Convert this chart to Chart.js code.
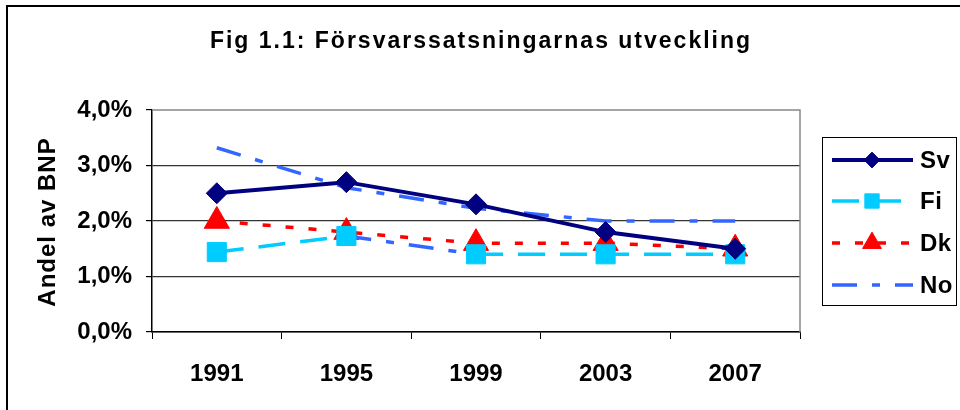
<!DOCTYPE html>
<html>
<head>
<meta charset="utf-8">
<script src="https://cdn.jsdelivr.net/npm/chart.js@4/dist/chart.umd.min.js"></script>
<style>
html,body{margin:0;padding:0;background:#fff;}
#wrap{position:relative;width:960px;height:410px;}
canvas{display:block;}
</style>
</head>
<body>
<div id="wrap"><canvas id="c" width="960" height="410"></canvas></div>
<script>
const titleText = 'Fig 1.1: Försvarssatsningarnas utveckling';
const yTitle = 'Andel av BNP';
const years = ['1991', '1995', '1999', '2003', '2007'];
const seriesNames = ['Sv', 'Fi', 'Dk', 'No'];
const sv = [2.5, 2.7, 2.3, 1.8, 1.5];
const fi = [1.44, 1.73, 1.4, 1.4, 1.4];
const dk = [2.0, 1.8, 1.6, 1.6, 1.5];
const no = [3.32, 2.6, 2.23, 2.0, 2.0];

const FONT = '"Liberation Sans", Arial, sans-serif';
const noDash = [25, 15, 8, 15];

const datasets = [
  {label: seriesNames[0], data: sv, borderColor: '#000080', backgroundColor: '#000080',
   borderWidth: 4, pointStyle: 'rectRot', pointRadius: 10.5, pointBorderWidth: 1,
   pointBackgroundColor: '#000080', pointBorderColor: '#000080', borderDash: []},
  {label: seriesNames[1], data: fi, borderColor: '#00CCFF', backgroundColor: '#00CCFF',
   borderWidth: 3.5, pointStyle: 'rect', pointRadius: 13.5, pointBorderWidth: 1,
   pointBackgroundColor: '#00CCFF', pointBorderColor: '#00CCFF', borderDash: [27, 15],
   segment: {
     borderColor: c => c.p0DataIndex === 1 ? '#3366FF' : undefined,
     borderDash: c => c.p0DataIndex === 1 ? noDash : undefined
   }},
  {label: seriesNames[2], data: dk, borderColor: '#FF0000', backgroundColor: '#FF0000',
   borderWidth: 3.5, pointStyle: 'triangle', pointRadius: 14.5, pointBorderWidth: 1,
   pointBackgroundColor: '#FF0000', pointBorderColor: '#FF0000', borderDash: [8, 15]},
  {label: seriesNames[3], data: no, borderColor: '#3366FF', backgroundColor: '#3366FF',
   borderWidth: 3.5, pointRadius: 0, pointStyle: false, borderDash: noDash}
];
datasets.forEach(d => { d.tension = 0; d.fill = false; d.pointHoverRadius = d.pointRadius; });

const deco = {
  id: 'deco',
  beforeDraw(chart) {
    const ctx = chart.ctx;
    ctx.save();
    ctx.fillStyle = '#fff';
    ctx.fillRect(0, 0, chart.width, chart.height);
    ctx.strokeStyle = '#000';
    ctx.lineWidth = 2;
    ctx.beginPath();
    ctx.moveTo(7, 410); ctx.lineTo(7, 6); ctx.lineTo(960, 6);
    ctx.stroke();
    ctx.restore();
  },
  beforeDatasetsDraw(chart) {
    const ctx = chart.ctx;
    const a = chart.chartArea;
    ctx.save();
    ctx.strokeStyle = '#888';
    ctx.lineWidth = 1.5;
    ctx.beginPath();
    ctx.moveTo(a.left, a.top); ctx.lineTo(a.right, a.top); ctx.lineTo(a.right, a.bottom);
    ctx.stroke();
    ctx.restore();
  },
  afterDatasetsDraw(chart) {
    const ctx = chart.ctx;
    const a = chart.chartArea;
    ctx.save();
    ctx.fillStyle = '#000';
    ctx.textBaseline = 'middle';
    // title
    ctx.font = 'bold 23px ' + FONT;
    ctx.textAlign = 'center';
    if ('letterSpacing' in ctx) ctx.letterSpacing = '2px';
    ctx.fillText(titleText, 481, 42);
    // y axis title
    if ('letterSpacing' in ctx) ctx.letterSpacing = '1px';
    ctx.save();
    ctx.translate(48, (a.top + a.bottom) / 2 + 1);
    ctx.rotate(-Math.PI / 2);
    ctx.font = 'bold 24px ' + FONT;
    ctx.fillText(yTitle, 0, 0);
    ctx.restore();
    // legend box
    const lx = 822, ly = 137, lw = 134, lh = 168;
    ctx.strokeStyle = '#000';
    ctx.lineWidth = 1;
    ctx.strokeRect(lx + 0.5, ly + 0.5, lw, lh);
    const rows = [160, 201, 243, 285];
    chart.data.datasets.forEach((ds, i) => {
      const y = rows[i];
      ctx.save();
      ctx.strokeStyle = ds.borderColor;
      ctx.lineWidth = ds.borderWidth;
      ctx.setLineDash(ds.borderDash || []);
      ctx.beginPath();
      ctx.moveTo(832, y); ctx.lineTo(913, y);
      ctx.stroke();
      ctx.setLineDash([]);
      if (ds.pointStyle) {
        ctx.fillStyle = ds.pointBackgroundColor;
        ctx.strokeStyle = ds.pointBorderColor;
        ctx.lineWidth = 1;
        Chart.helpers.drawPoint(ctx, {pointStyle: ds.pointStyle, radius: ds.pointRadius * 0.75, borderWidth: 1, rotation: 0}, 872, y);
      }
      ctx.restore();
      ctx.fillStyle = '#000';
      ctx.font = 'bold 24px ' + FONT;
      ctx.textAlign = 'left';
      if ('letterSpacing' in ctx) ctx.letterSpacing = '0.5px';
      ctx.fillText(ds.label, 920, y + 1);
    });
    ctx.restore();
  }
};

new Chart(document.getElementById('c'), {
  type: 'line',
  data: {labels: years, datasets: datasets},
  options: {
    responsive: false,
    animation: false,
    devicePixelRatio: 1,
    layout: {padding: {top: 110, left: 28, right: 160, bottom: 0}},
    plugins: {legend: {display: false}, title: {display: false}, tooltip: {enabled: false}},
    scales: {
      x: {
        offset: true,
        grid: {offset: true, drawOnChartArea: false, drawTicks: true, tickLength: 7, color: '#000', tickColor: '#000'},
        border: {color: '#000', width: 1.5},
        ticks: {color: '#000', padding: 21, font: {family: FONT, size: 24, weight: 'bold'}, maxRotation: 0},
        afterFit: s => { s.height = 78; }
      },
      y: {
        min: 0, max: 4,
        ticks: {stepSize: 1, color: '#000', padding: 14,
          font: {family: FONT, size: 24, weight: 'bold'},
          callback: v => v.toFixed(1).replace('.', ',') + '%'},
        grid: {color: c => (c.tick && c.tick.value === 4) ? 'rgba(0,0,0,0)' : '#333', lineWidth: 1.2, tickLength: 6, tickColor: '#000', drawTicks: true},
        border: {color: '#000', width: 1.5},
        title: {display: false},
        afterFit: s => { s.width = 124; }
      }
    }
  },
  plugins: [deco]
});
</script>
</body>
</html>
